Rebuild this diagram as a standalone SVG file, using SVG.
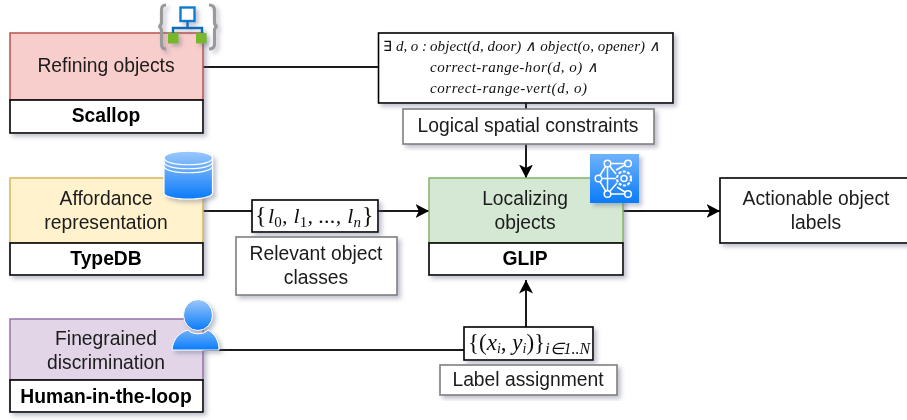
<svg xmlns="http://www.w3.org/2000/svg" width="907" height="420" viewBox="0 0 907 420">
<defs>
<filter id="sh" x="-10%" y="-10%" width="125%" height="130%"><feDropShadow dx="3" dy="3" stdDeviation="2.2" flood-color="#5a5f80" flood-opacity="0.38"/></filter>
<linearGradient id="bl" x1="0" y1="0" x2="0" y2="1"><stop offset="0" stop-color="#9cc8fb"/><stop offset="1" stop-color="#0a7bfa"/></linearGradient>
<linearGradient id="sq" x1="0" y1="0" x2="0" y2="1"><stop offset="0" stop-color="#6fb2fb"/><stop offset="1" stop-color="#0a7bfa"/></linearGradient>
<marker id="ah" markerUnits="userSpaceOnUse" markerWidth="15" markerHeight="16" refX="13.5" refY="7" orient="auto"><path d="M0 0L13.5 7L0 14L3.4 7Z" fill="#000"/></marker>
</defs>
<style>
text{font-family:"Liberation Sans",Arial,sans-serif;font-size:19.3px;fill:#1a1a1a;text-anchor:middle}
.b{font-weight:700;fill:#000}
.w{fill:#fff;stroke:#000;stroke-width:1.6}
.g{fill:#fff;stroke:#7f7f7f;stroke-width:1.6}
.c{fill:none;stroke:#1a1a1a;stroke-width:2}
.m{font-family:"Liberation Serif",serif;font-style:italic;font-size:15px;text-anchor:start;fill:#111}
.n{font-family:"Liberation Serif",serif;fill:#111;text-anchor:start}
</style>
<rect width="907" height="420" fill="#fff"/>
<g id="connectors">
<path class="c" d="M203 67H378"/>
<path class="c" d="M526 103V178" marker-end="url(#ah)"/>
<path class="c" d="M203 211H429" marker-end="url(#ah)"/>
<path class="c" d="M623 211H720" marker-end="url(#ah)"/>
<path class="c" d="M203 350H464"/>
<path class="c" d="M526 327V280" marker-end="url(#ah)"/>
</g>
<g id="scallop" filter="url(#sh)">
<rect x="10" y="33" width="193" height="67" fill="#f8cecc" stroke="#b85450" stroke-width="1.5"/>
<rect class="w" x="10" y="100" width="193" height="33"/>
<text x="106" y="72">Refining objects</text>
<text class="b" x="106" y="122">Scallop</text>
</g>
<g id="scallop-icon" filter="url(#sh)">
<path d="M166 5Q161.500 5 161.500 10V22Q161.500 26 158.500 26.500Q161.500 27 161.500 31V44Q161.500 49 166 49M209 5Q214.500 5 214.500 10V22Q214.500 26 217.500 26.500Q214.500 27 214.500 31V44Q214.500 49 209 49" fill="none" stroke="#9a9a9a" stroke-width="3.200"/>
<rect x="180.500" y="7.500" width="14" height="13.500" fill="#fff" stroke="#0f7dd0" stroke-width="2.400"/>
<path d="M187.500 21V27M173 34V28H202V34" fill="none" stroke="#0f6cb8" stroke-width="2.400"/>
<rect x="168" y="33" width="10.500" height="10.500" fill="#76b82a"/>
<rect x="196" y="33" width="10.500" height="10.500" fill="#76b82a"/>
</g>
<g id="formula" filter="url(#sh)">
<rect class="w" x="378.500" y="33" width="294.500" height="70"/>
<text class="n" x="383" y="51" style="font-size:14px">∃</text>
<text class="m" x="396" y="51" textLength="31">d, o :</text>
<text class="m" x="430" y="51" textLength="230">object(d, door) ∧ object(o, opener) ∧</text>
<text class="m" x="430" y="72" textLength="168">correct-range-hor(d, o) ∧</text>
<text class="m" x="430" y="93" textLength="157">correct-range-vert(d, o)</text>
</g>
<g id="logical" filter="url(#sh)">
<rect class="g" x="403" y="109" width="251" height="35"/>
<text x="528" y="132">Logical spatial constraints</text>
</g>
<g id="typedb" filter="url(#sh)">
<rect x="10" y="178" width="193" height="65" fill="#fff2cc" stroke="#d6b656" stroke-width="1.500"/>
<rect class="w" x="10" y="243" width="193" height="32"/>
<text x="106" y="205">Affordance</text>
<text x="106" y="229">representation</text>
<text class="b" x="106" y="265">TypeDB</text>
</g>
<g id="db-icon" filter="url(#sh)">
<path d="M164 158C164 149 212.500 149 212.500 158V193C212.500 201 164 201 164 193Z" fill="url(#bl)" stroke="#fff" stroke-width="1.200"/>
<path d="M164 158C164 167 212.500 167 212.500 158M164 162C164 171 212.500 171 212.500 162M164 166C164 175 212.500 175 212.500 166" fill="none" stroke="#fff" stroke-width="1.200"/>
</g>
<g id="classes-math" filter="url(#sh)">
<rect class="w" x="252" y="200" width="126" height="32"/>
<text class="n" x="255" y="223" style="font-size:24px">{</text>
<text class="m" x="268" y="223" style="font-size:22px" textLength="93">l<tspan dy="4" font-size="15" font-style="normal">0</tspan><tspan dy="-4">, l</tspan><tspan dy="4" font-size="15" font-style="normal">1</tspan><tspan dy="-4">, ..., l</tspan><tspan dy="4" font-size="15">n</tspan></text>
<text class="n" x="362" y="223" style="font-size:24px">}</text>
</g>
<g id="classes-label" filter="url(#sh)">
<rect class="g" x="236" y="237" width="161" height="58"/>
<text x="316" y="260">Relevant object</text>
<text x="316" y="284">classes</text>
</g>
<g id="glip" filter="url(#sh)">
<rect x="429" y="178" width="194" height="65" fill="#d5e8d4" stroke="#82b366" stroke-width="1.500"/>
<rect class="w" x="429" y="243" width="194" height="32"/>
<text x="525" y="205">Localizing</text>
<text x="525" y="229">objects</text>
<text class="b" x="525" y="265">GLIP</text>
</g>
<g id="glip-icon" filter="url(#sh)">
<rect x="590" y="154" width="49" height="49" fill="url(#sq)"/>
<g fill="none" stroke="#fff" stroke-width="1.500">
<path d="M598 178.500L607.500 163.500M598 178.500L607.500 194M598 178.500H616M607.500 163.500H628M607.500 163.500V194M607.500 163.500L616 174M607.500 194H628M607.500 194L617 183M616 170L628 163.500M617 187L628 194"/>
<circle cx="598.500" cy="178.500" r="3.300" fill="#3f97fb"/><circle cx="607.500" cy="163.500" r="3.300" fill="#5ea8fb"/><circle cx="628" cy="163.500" r="3.300" fill="#5ea8fb"/><circle cx="607.500" cy="194" r="3.300" fill="#2086fa"/><circle cx="628" cy="194" r="3.300" fill="#2086fa"/>
<circle cx="624" cy="178.500" r="3"/><circle cx="624" cy="178.500" r="7" stroke-dasharray="3 1.500" stroke-width="2.200"/>
</g>
</g>
<g id="actionable" filter="url(#sh)">
<rect class="w" x="720" y="178" width="192" height="65"/>
<text x="816" y="205">Actionable object</text>
<text x="816" y="229">labels</text>
</g>
<g id="hitl" filter="url(#sh)">
<rect x="10" y="319" width="193" height="61" fill="#e1d5e7" stroke="#9673a6" stroke-width="1.500"/>
<rect class="w" x="10" y="380" width="193" height="32"/>
<text x="106" y="345">Finegrained</text>
<text x="106" y="369">discrimination</text>
<text class="b" x="106" y="403">Human-in-the-loop</text>
</g>
<g id="user-icon" filter="url(#sh)">
<path d="M172 350C173 340 178 333 188 330C192 335 204 335 208 330C214 333 219 340 219 350Z" fill="url(#sq)" stroke="#fff" stroke-width="1"/>
<ellipse cx="198" cy="315" rx="14.500" ry="15.500" fill="url(#bl)" stroke="#fff" stroke-width="1"/>
</g>
<g id="pairs-math" filter="url(#sh)">
<rect class="w" x="464" y="327" width="129" height="33"/>
<text class="n" x="468" y="350" style="font-size:23px">{(<tspan font-style="italic">x</tspan><tspan dy="3" font-size="14" font-style="italic">i</tspan><tspan dy="-3">, </tspan><tspan font-style="italic">y</tspan><tspan dy="3" font-size="14" font-style="italic">i</tspan><tspan dy="-3">)}</tspan><tspan dy="4" font-size="16" font-style="italic">i∈1..N</tspan></text>
</g>
<g id="pairs-label" filter="url(#sh)">
<rect class="g" x="440" y="365" width="177" height="30"/>
<text x="528" y="386">Label assignment</text>
</g>
</svg>
